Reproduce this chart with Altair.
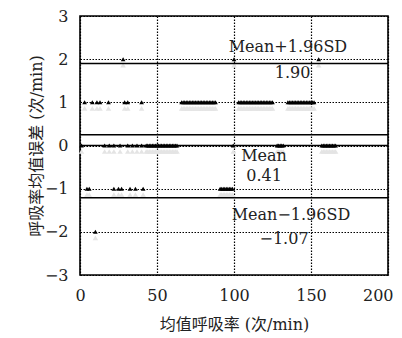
import altair as alt
import pandas as pd

# ---- data ----
x_ticks = [0, 50, 100, 150, 200]
y_ticks = [-3, -2, -1, 0, 1, 2, 3]

row_p2_x = [28, 100, 155]
row_p1_x = [3, 8, 11, 13, 18.5, 29, 31, 40,
            66, 67, 68, 69, 70, 71, 72, 73, 74, 75, 76, 77, 78, 79, 80, 81, 82, 83, 84, 85, 86, 87, 88,
            103, 104, 105, 106, 107, 108, 109, 110, 111, 112, 113, 114, 115, 116, 117, 118, 119, 120,
            121, 122, 123, 124, 125,
            135, 136, 137, 138, 139, 140, 141, 142, 143, 144, 145, 146, 147, 148, 149, 150, 151, 152]
row_0_x = [1, 16, 19, 22, 26, 31, 34, 37, 40,
           43, 44, 45, 46, 47, 48, 49, 50, 51, 52, 53, 54, 55, 56, 57, 58, 59, 60, 61, 62, 63,
           99.5, 128, 129, 130, 131, 132,
           157, 158, 159, 160, 161, 162, 163, 164, 165, 166]
row_m1_x = [4.5, 6, 22, 25, 27, 32.5, 36, 41,
            91, 92, 93, 94, 95, 96, 97, 98, 99]
row_m2_x = [10]

rows = [(2, row_p2_x), (1, row_p1_x), (0, row_0_x), (-1, row_m1_x), (-2, row_m2_x)]

line_values = [1.90, 0.25, 0.0, -1.21]

label_texts = ["Mean+1.96SD", "1.90", "Mean", "0.41", "Mean\u22121.96SD", "\u22121.07"]
label_x = [135, 138, 119.5, 119.5, 137, 132.5]
label_y = [2.28, 1.68, -0.24, -0.71, -1.61, -2.16]

# ---- tables ----
pts = pd.DataFrame([{"x": xv, "y": yv} for yv, xs in rows for xv in xs])
lines = pd.DataFrame({"v": line_values})
labels = pd.DataFrame({"t": label_texts, "x": label_x, "y": label_y})

FONT = "DejaVu Serif, Noto Sans CJK SC"

xs = alt.Scale(domain=[0, 200], nice=False, zero=False)
ys = alt.Scale(domain=[-3, 3], nice=False, zero=False)

xax = alt.Axis(
    values=x_ticks, title="均值呼吸率 (次/min)", format="d", grid=True,
    labelAlign={"condition": {"test": "datum.value == 200", "value": "right"}, "value": "center"},
    labelOffset={"condition": {"test": "datum.value == 200", "value": 5}, "value": 0},
)
yax = alt.Axis(values=y_ticks, title="呼吸率均值误差 (次/min)", format="d", grid=True)

base = alt.Chart(pts)

shadow = base.mark_point(shape="triangle-up", filled=True, size=30, color="#e4e4e4",
                         opacity=1, yOffset=6).encode(
    x=alt.X("x:Q", scale=xs, axis=xax),
    y=alt.Y("y:Q", scale=ys, axis=yax),
)

rules = alt.Chart(lines).mark_rule(color="black", strokeWidth=1.5).encode(
    y=alt.Y("v:Q", scale=ys)
)

points = base.mark_point(shape="triangle-up", filled=True, size=22, color="black",
                         opacity=1).encode(
    x=alt.X("x:Q", scale=xs),
    y=alt.Y("y:Q", scale=ys),
)

texts = alt.Chart(labels).mark_text(font=FONT, fontSize=16, color="#222",
                                    align="center", baseline="middle").encode(
    x=alt.X("x:Q", scale=xs),
    y=alt.Y("y:Q", scale=ys),
    text="t:N",
)

chart = alt.layer(shadow, rules, points, texts).properties(
    width=308, height=259,
    background="white",
    autosize=alt.AutoSizeParams(type="none"),
    padding={"left": 72, "top": 8, "right": 6, "bottom": 60},
).configure_view(
    stroke="black", strokeWidth=1.6
).configure_axis(
    domain=False, ticks=False, grid=True, gridColor="#000000", gridDash=[1.5, 1.5],
    gridOpacity=1, gridWidth=1.2, labelFlush=False,
    labelFont=FONT, labelFontSize=16, labelColor="#222",
    titleFont=FONT, titleFontSize=16, titleFontWeight="normal", titleColor="#222",
).configure_axisX(
    labelPadding=12, titlePadding=13,
).configure_axisY(
    labelPadding=12, titlePadding=0,
)

chart.save("out.html", embed_options={"renderer": "svg", "actions": False})
